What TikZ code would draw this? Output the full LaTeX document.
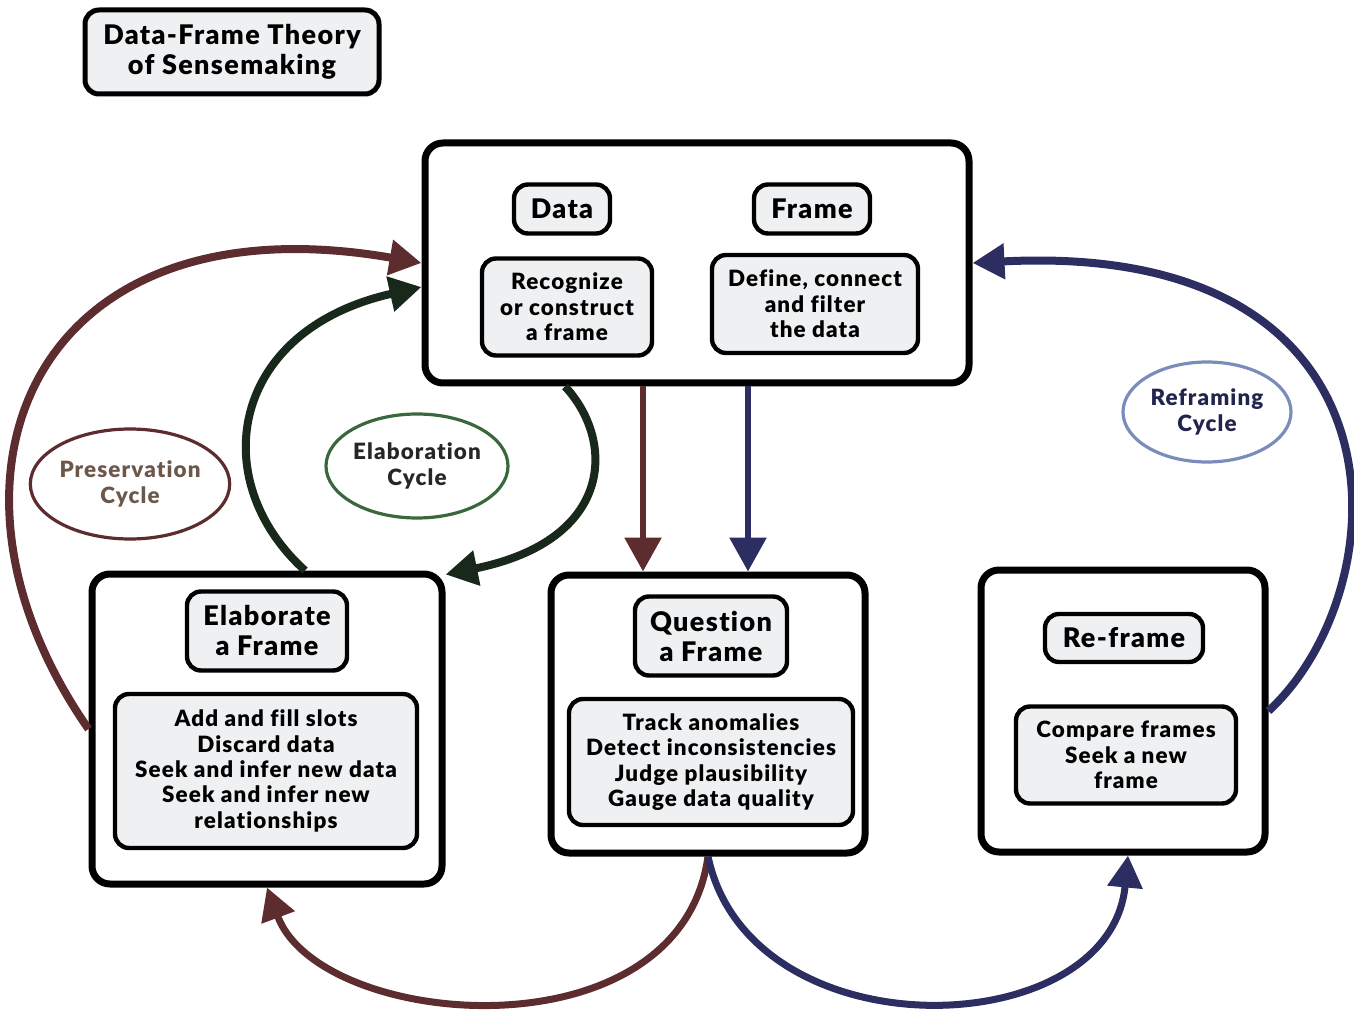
\documentclass[tikz,border=0pt]{standalone}
\usepackage{fontspec}
\setmainfont{Lato}[BoldFont={Lato Black},BoldFeatures={LetterSpace=5,Ligatures=NoCommon}]
\usepackage{xcolor}
\usetikzlibrary{arrows.meta,shapes.geometric}
\definecolor{presbrown}{RGB}{92,44,46}
\definecolor{elabgreen}{RGB}{24,40,26}
\definecolor{reframeblue}{RGB}{44,45,96}
\definecolor{boxgray}{RGB}{238,240,242}

\begin{document}
\begin{tikzpicture}[x=0.5pt,y=-0.5pt,
        bigbox/.style={draw,line width=3.5pt,rounded corners=9pt,fill=white,inner sep=0pt},
        labelbox/.style={draw,line width=2.2pt,rounded corners=7pt,fill=boxgray,align=center,inner sep=0pt,
            font=\fontsize{13.5}{15}\selectfont\bfseries},
        taskbox/.style={draw,line width=2.2pt,rounded corners=7pt,fill=boxgray,align=center,inner sep=0pt,
            font=\fontsize{11.2}{12.7}\selectfont\bfseries},
        cyclelabel/.style={ellipse,draw,line width=1.6pt,align=center,inner sep=0pt,
            font=\fontsize{11.2}{13}\selectfont\bfseries},
        loopline/.style={line width=4pt,-{Triangle[width=17pt,length=16pt]}},
        downline/.style={line width=3pt,-{Triangle[width=18pt,length=17pt]}},
        ]
        \useasboundingbox (0,0) rectangle (1354,1010);

        % title
        \node[labelbox,line width=2.5pt,minimum width=147pt,minimum height=42pt] (title) at (232,52) {Data-Frame Theory\\of Sensemaking};

        % top box
        \node[bigbox,minimum width=272pt,minimum height=120pt] (topbox) at (697,263) {};
        \node[labelbox,minimum width=48pt,minimum height=24.5pt] (data) at (562,209) {Data};
        \node[labelbox,minimum width=58pt,minimum height=24.5pt] (frame) at (812,209) {Frame};
        \node[taskbox,minimum width=85pt,minimum height=48.5pt] (recognize) at (567,307) {Recognize\\or construct\\a frame};
        \node[taskbox,minimum width=103pt,minimum height=49pt] (define) at (815,304) {Define, connect\\and filter\\the data};

        % elaborate
        \node[bigbox,minimum width=175pt,minimum height=155pt] (elabbox) at (267,729) {};
        \node[labelbox,minimum width=80pt,minimum height=39.5pt] (elablabel) at (267,631) {Elaborate\\a Frame};
        \node[taskbox,minimum width=151pt,minimum height=77pt] (elabtasks) at (266,771) {Add and fill slots\\Discard data\\Seek and infer new data\\Seek and infer new\\relationships};

        % question
        \node[bigbox,minimum width=157pt,minimum height=139pt] (qbox) at (708,714) {};
        \node[labelbox,minimum width=76pt,minimum height=39.5pt] (qlabel) at (711,636) {Question\\a Frame};
        \node[taskbox,minimum width=142pt,minimum height=63pt] (qtasks) at (711,762) {Track anomalies\\Detect inconsistencies\\Judge plausibility\\Gauge data quality};

        % re-frame
        \node[bigbox,minimum width=142pt,minimum height=141pt] (rbox) at (1123,711) {};
        \node[labelbox,minimum width=79pt,minimum height=24pt] (rlabel) at (1124,638) {Re-frame};
        \node[taskbox,minimum width=110pt,minimum height=48.5pt] (rtasks) at (1126,755) {Compare frames\\Seek a new\\frame};

        % cycle names
        \node[cyclelabel,draw=presbrown,text={rgb,255:red,108;green,88;blue,74},minimum width=98pt,minimum height=55pt] (prescycle) at (130,484) {Preservation\\Cycle};
        \node[cyclelabel,draw={rgb,255:red,58;green,104;blue,60},text=black!85,minimum width=91pt,minimum height=52pt] (elabcycle) at (417,466) {Elaboration\\Cycle};
        \node[cyclelabel,draw={rgb,255:red,122;green,140;blue,186},text=reframeblue!80!black,minimum width=84pt,minimum height=50pt] (refcycle) at (1207,412) {Reframing\\Cycle};

        % loops
        \draw[loopline,presbrown] (elabbox.west) .. controls (-85,480) and (30,195) .. (topbox.west);
        \draw[loopline,elabgreen] ([xshift=19pt]elabbox.north) .. controls (205,480) and (230,330) .. ([yshift=-12pt]topbox.west);
        \draw[loopline,elabgreen] ([xshift=-66pt]topbox.south) .. controls (615,440) and (615,540) .. ([yshift=-2pt]elabbox.north east);
        \draw[loopline,reframeblue] (rbox.east) .. controls (1400,590) and (1420,240) .. (topbox.east);
        \draw[loopline,line width=3.5pt,presbrown] (qbox.south) .. controls (680,1060) and (320,1030) .. (elabbox.south);
        \draw[loopline,line width=3.5pt,reframeblue] (qbox.south) .. controls (750,1055) and (1110,1045) .. ([xshift=2.5pt]rbox.south);

        % straight ones
        \draw[downline,presbrown] ([xshift=-27pt]topbox.south) -- ([xshift=-27pt]topbox.south |- qbox.north);
        \draw[downline,reframeblue] ([xshift=25.5pt]topbox.south) -- ([xshift=25.5pt]topbox.south |- qbox.north);
\end{tikzpicture}
\end{document}
